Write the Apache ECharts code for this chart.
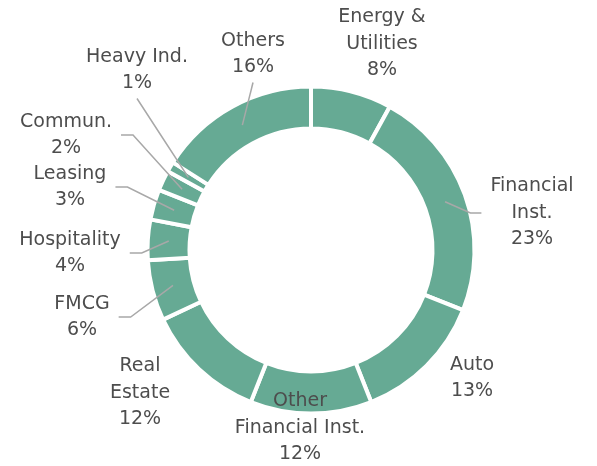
<!DOCTYPE html>
<html>
<head>
<meta charset="utf-8">
<script src="https://cdn.jsdelivr.net/npm/echarts@6/dist/echarts.min.js"></script>
<style>
  html, body { margin: 0; padding: 0; background: #fff; }
  #chart { width: 597px; height: 466px; }
</style>
</head>
<body>
<div id="chart"></div>
<script>
const sectors = ['Energy &\nUtilities', 'Financial\nInst.', 'Auto', 'Other\nFinancial Inst.', 'Real\nEstate',
  'FMCG', 'Hospitality', 'Leasing', 'Commun.', 'Heavy Ind.', 'Others']
const shares = [8, 23, 13, 12, 12, 6, 4, 3, 2, 1, 16]

// label block centres and where the leader line attaches (none / left / right / bottom)
const labelAnchors = [
  [382, 44, 'none'],
  [532, 213, 'left'],
  [472, 378, 'none'],
  [300, 428, 'none'],
  [140, 393, 'none'],
  [82, 317, 'right'],
  [70, 253, 'right'],
  [70, 187, 'right'],
  [66, 135, 'right'],
  [137, 70, 'bottom'],
  [253, 54, 'bottom']
]

const cx = 311
const cy = 250
const rIn = 121.5
const rOut = 163.5
const rMid = (rIn + rOut) / 2
const total = shares.reduce((a, b) => a + b, 0)

// point in the middle of the ring, at the middle angle of slice i
const midPoint = (i) => {
  let cum = 0
  for (let k = 0; k < i; k++) cum += shares[k]
  const a = (cum + shares[i] / 2) / total * Math.PI * 2
  return [cx + rMid * Math.sin(a), cy - rMid * Math.cos(a)]
}

const chart = echarts.init(document.getElementById('chart'))

const pieData = sectors.map((name, i) => ({
  name: name,
  value: shares[i],
  labelLine: { show: labelAnchors[i][2] !== 'none' }
}))

const option = {
  animation: false,
  series: [
    // the ring itself
    {
      type: 'pie',
      z: 2,
      center: [cx, cy],
      radius: [rIn, rOut],
      startAngle: 90,
      clockwise: true,
      silent: true,
      itemStyle: {
        color: '#66aa94',
        borderColor: '#ffffff',
        borderWidth: 4
      },
      label: { show: false },
      labelLine: { show: false },
      data: pieData
    },
    // same slices, transparent, only to carry labels + leader lines on top of the ring
    {
      type: 'pie',
      z: 5,
      center: [cx, cy],
      radius: [rIn, rOut],
      startAngle: 90,
      clockwise: true,
      silent: true,
      itemStyle: { color: 'rgba(0,0,0,0)', borderWidth: 0 },
      label: {
        show: true,
        position: 'outside',
        formatter: '{b}\n{c}%',
        fontFamily: 'DejaVu Sans',
        fontSize: 19,
        lineHeight: 26.5,
        color: '#4d4d4d',
        align: 'center',
        overflow: 'none'
      },
      labelLine: {
        show: true,
        lineStyle: { color: '#a8a8a8', width: 1.5 }
      },
      labelLayout: function (params) {
        const i = params.dataIndex
        const [x, y, side] = labelAnchors[i]
        const w = params.labelRect.width
        const h = params.labelRect.height
        const s = midPoint(i)
        let pts
        if (side === 'right') {
          const e = [x + w / 2 + 9, y]
          pts = [s, [e[0] + 12, y], e]
        } else if (side === 'left') {
          const e = [x - w / 2 - 9, y]
          pts = [s, [e[0] - 11, y], e]
        } else if (side === 'bottom') {
          const e = [x, y + h / 2 + 2]
          pts = [s, [(s[0] + e[0]) / 2, (s[1] + e[1]) / 2], e]
        } else {
          pts = [s, s, s]
        }
        return {
          x: x,
          y: y,
          align: 'center',
          verticalAlign: 'middle',
          labelLinePoints: pts
        }
      },
      data: pieData
    }
  ]
}

chart.setOption(option)
</script>
</body>
</html>
